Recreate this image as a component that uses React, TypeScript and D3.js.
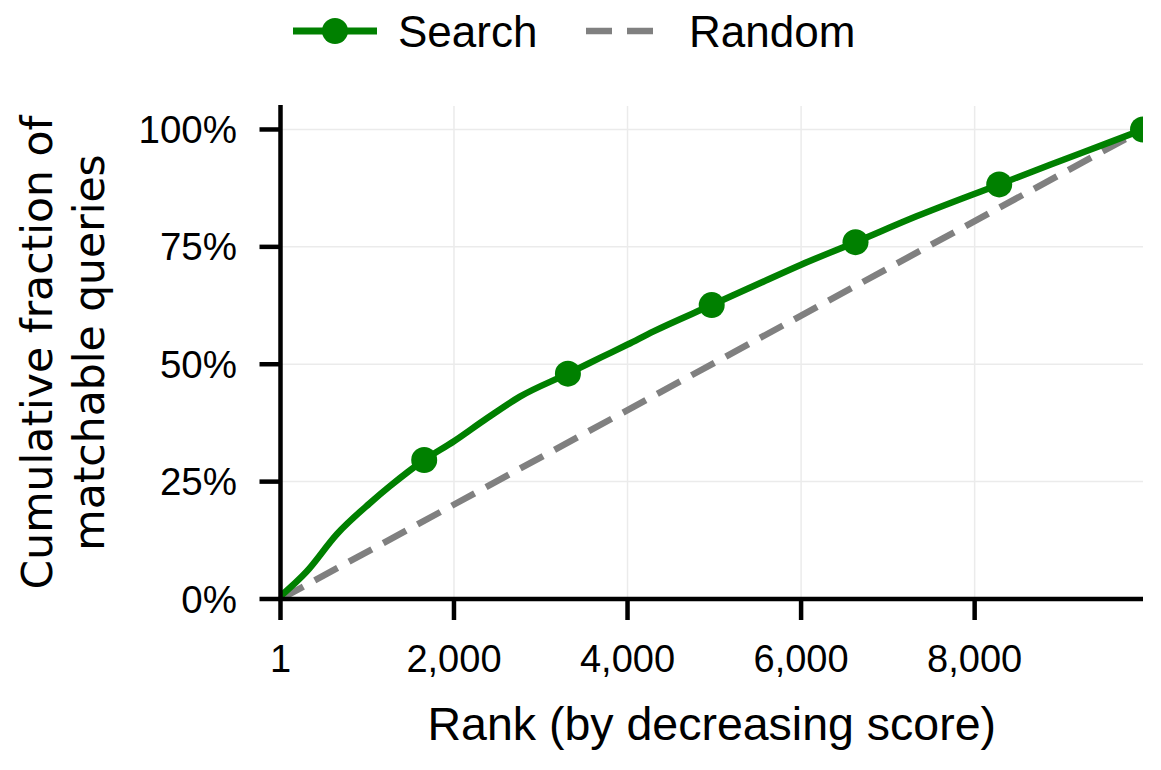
import React from "react";
import * as d3 from "d3";

// ---- data ----
const ranks = [1, 300, 650, 1030, 1260, 1657, 2000, 2380, 2760, 3313, 3700, 4000, 4300, 4970, 5530, 6000, 6627, 7330, 8283, 8870, 9560, 9940];
const searchFrac = [0.006, 0.058, 0.138, 0.204, 0.24, 0.296, 0.336, 0.385, 0.431, 0.48, 0.515, 0.542, 0.57, 0.626, 0.673, 0.712, 0.76, 0.815, 0.883, 0.925, 0.973, 1.0];
const markerRanks = [1657, 3313, 4970, 6627, 8283, 9940];
const randomRanks = [1, 9940];
const randomFrac = [0, 1];
const xTicks = [1, 2000, 4000, 6000, 8000];
const yTicks = [0, 0.25, 0.5, 0.75, 1];
const seriesNames = ["Search", "Random"];

const W = 1161;
const H = 770;
const left = 280.5;
const right = 1143;
const top = 106;
const bottom = 599;

const GREEN = "#008000";
const GRAY = "#808080";
const TICK_FONT = "'Liberation Sans', Arial, sans-serif";

export default function App() {
  const x = d3.scaleLinear().domain([1, 9940]).range([left, right]);
  const y = d3.scaleLinear().domain([0, 1.05]).range([bottom, top]);

  const search = ranks.map((r, i) => [r, searchFrac[i]] as [number, number]);
  const random = randomRanks.map((r, i) => [r, randomFrac[i]] as [number, number]);
  const line = d3
    .line<[number, number]>()
    .x((d) => x(d[0]))
    .y((d) => y(d[1]))
    .curve(d3.curveMonotoneX);
  const markers = search.filter((d) => markerRanks.includes(d[0]));
  const fmt = d3.format(",");
  const pct = d3.format(".0%");

  return (
    <svg width={W} height={H} style={{ position: "absolute", left: 0, top: 0, background: "#fff" }}>
      <defs>
        <clipPath id="plot">
          <rect x={left} y={top - 30} width={right - left} height={bottom - top + 30} />
        </clipPath>
      </defs>
      {/* grid */}
      {yTicks.map((t) => (
        <line key={"gy" + t} x1={left} x2={right} y1={y(t)} y2={y(t)} stroke="#ebebeb" strokeWidth={1.5} />
      ))}
      {xTicks.map((t) => (
        <line key={"gx" + t} x1={x(t)} x2={x(t)} y1={top} y2={bottom} stroke="#ebebeb" strokeWidth={1.5} />
      ))}
      {/* series */}
      <g clipPath="url(#plot)">
        <path d={line(random) || ""} fill="none" stroke={GRAY} strokeWidth={6.5} strokeDasharray="26 13" />
        <path d={line(search) || ""} fill="none" stroke={GREEN} strokeWidth={6.5} strokeLinejoin="round" />
        {markers.map((d, i) => (
          <circle key={i} cx={x(d[0])} cy={y(d[1])} r={13} fill={GREEN} />
        ))}
      </g>
      {/* axes */}
      <line x1={left} x2={left} y1={top - 1} y2={bottom + 2} stroke="#000" strokeWidth={4.5} />
      <line x1={left - 2} x2={right} y1={bottom} y2={bottom} stroke="#000" strokeWidth={4.5} />
      {xTicks.map((t) => (
        <g key={"xt" + t}>
          <line x1={x(t)} x2={x(t)} y1={bottom} y2={bottom + 21} stroke="#000" strokeWidth={4.5} />
          <text x={x(t)} y={672} textAnchor="middle" fontFamily={TICK_FONT} fontSize={38} fill="#000">
            {t === 1 ? "1" : fmt(t)}
          </text>
        </g>
      ))}
      {yTicks.map((t) => (
        <g key={"yt" + t}>
          <line x1={left - 21} x2={left} y1={y(t)} y2={y(t)} stroke="#000" strokeWidth={4.5} />
          <text x={237} y={y(t) + 13.5} textAnchor="end" fontFamily={TICK_FONT} fontSize={38.5} fill="#000">
            {pct(t)}
          </text>
        </g>
      ))}
      {/* axis labels */}
      <text x={(left + right) / 2} y={740} textAnchor="middle" fontFamily={TICK_FONT} fontSize={46.5} fill="#000">
        Rank (by decreasing score)
      </text>
      <g transform={`translate(0, ${(top + bottom) / 2}) rotate(-90)`}>
        <text x={0} y={52} textAnchor="middle" fontFamily="'DejaVu Sans', sans-serif" fontSize={42.5} fill="#000">
          Cumulative fraction of
        </text>
        <text x={0} y={104} textAnchor="middle" fontFamily="'DejaVu Sans', sans-serif" fontSize={42.5} fill="#000">
          matchable queries
        </text>
      </g>
      {/* legend */}
      <g>
        <line x1={293} x2={377} y1={31} y2={31} stroke={GREEN} strokeWidth={7} />
        <circle cx={335} cy={31} r={13} fill={GREEN} />
        <text x={398} y={47} fontFamily={TICK_FONT} fontSize={44} fill="#000">
          {seriesNames[0]}
        </text>
        <line x1={586} x2={654} y1={31} y2={31} stroke={GRAY} strokeWidth={6.5} strokeDasharray="26 15" />
        <text x={689} y={47} fontFamily={TICK_FONT} fontSize={44} fill="#000">
          {seriesNames[1]}
        </text>
      </g>
    </svg>
  );
}
